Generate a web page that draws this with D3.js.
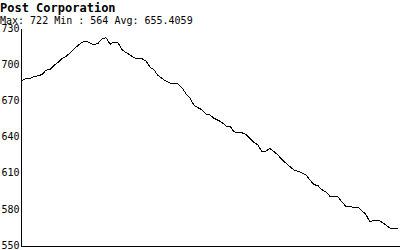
<!DOCTYPE html>
<html lang="en">
<head>
    <meta charset="UTF-8">
    <title>Post Corporation</title>
    <style>
        body { margin: 0; background: #fff; }
        svg { display: block; }
        .axis path,
        .axis line {
            fill: none;
            stroke: black;
            shape-rendering: crispEdges;
        }
        .axis text {
            font-family: "DejaVu Sans Mono", monospace;
            font-size: 10px;
            fill: black;
        }
        .title {
            font-family: "DejaVu Sans Mono", monospace;
            font-size: 12px;
            font-weight: bold;
        }
        .sub {
            font-family: "DejaVu Sans Mono", monospace;
            font-size: 10px;
        }
        .price {
            fill: none;
            stroke: black;
            stroke-width: 1;
            shape-rendering: crispEdges;
        }
    </style>
</head>
<body>
    <svg></svg>
    <script src="https://cdn.jsdelivr.net/npm/d3@7"></script>
    <script>
        var title = "Post Corporation"
        var subtitle = "Max: 722 Min : 564 Avg: 655.4059"
        var yTicks = [550, 580, 610, 640, 670, 700, 730]

        // price values, left to right
        var values = [
            686.5, 688.3, 688.0, 689.7, 690.3, 691.4, 695.0, 695.7, 699.0, 701.4,
            704.8, 706.3, 709.4, 712.8, 715.5, 718.2, 719.0, 717.6, 716.0, 717.2,
            721.0, 722.0, 716.5, 718.3, 717.7, 712.0, 709.6, 707.7, 705.3, 704.5,
            704.5, 702.5, 697.6, 695.2, 690.6, 688.2, 685.9, 684.3, 684.2, 683.5,
            680.5, 675.5, 671.8, 665.9, 663.9, 662.1, 658.7, 657.8, 655.1, 653.5,
            651.7, 648.6, 648.5, 644.0, 643.1, 643.1, 641.7, 638.3, 635.2, 632.8,
            627.5, 628.0, 630.0, 627.5, 624.6, 620.8, 617.9, 615.0, 612.1, 611.2,
            609.7, 608.3, 603.8, 600.1, 599.2, 595.8, 593.8, 590.4, 590.0, 590.0,
            585.6, 582.0, 581.6, 581.4, 581.2, 578.4, 575.2, 569.0, 570.7, 570.7,
            568.9, 566.5, 564.0, 564.0, 564.0
        ]

        var W = 400, H = 250
        var svg = d3.select('svg')
            .attr('width', W)
            .attr('height', H)

        //比例尺
        var xScale = d3.scaleLinear()
            .domain([0, values.length - 1])
            .range([22, 398])

        var yScale = d3.scaleLinear()
            .domain([550, 730])
            .range([245, 28])

        //标题
        svg.append('text')
            .attr('class', 'title')
            .attr('x', 0)
            .attr('y', 12)
            .text(title)

        svg.append('text')
            .attr('class', 'sub')
            .attr('x', 0)
            .attr('y', 24)
            .text(subtitle)

        //坐标轴
        var yAxis = d3.axisLeft(yScale)
            .tickValues(yTicks)
            .tickSize(0)
            .tickPadding(1)
        svg.append('g')
            .attr('class', 'axis')
            .attr('transform', 'translate(20.5,0)')
            .call(yAxis)

        var xAxis = d3.axisBottom(d3.scaleLinear().domain([0, 1]).range([20, W]))
            .tickValues([])
            .tickSizeOuter(0)
        svg.append('g')
            .attr('class', 'axis')
            .attr('transform', 'translate(0,245.5)')
            .call(xAxis)

        //折线
        var line = d3.line()
            .x(function (d, i) { return xScale(i) })
            .y(function (d) { return yScale(d) })

        svg.append('path')
            .datum(values)
            .attr('class', 'price')
            .attr('d', line)
    </script>
</body>
</html>
